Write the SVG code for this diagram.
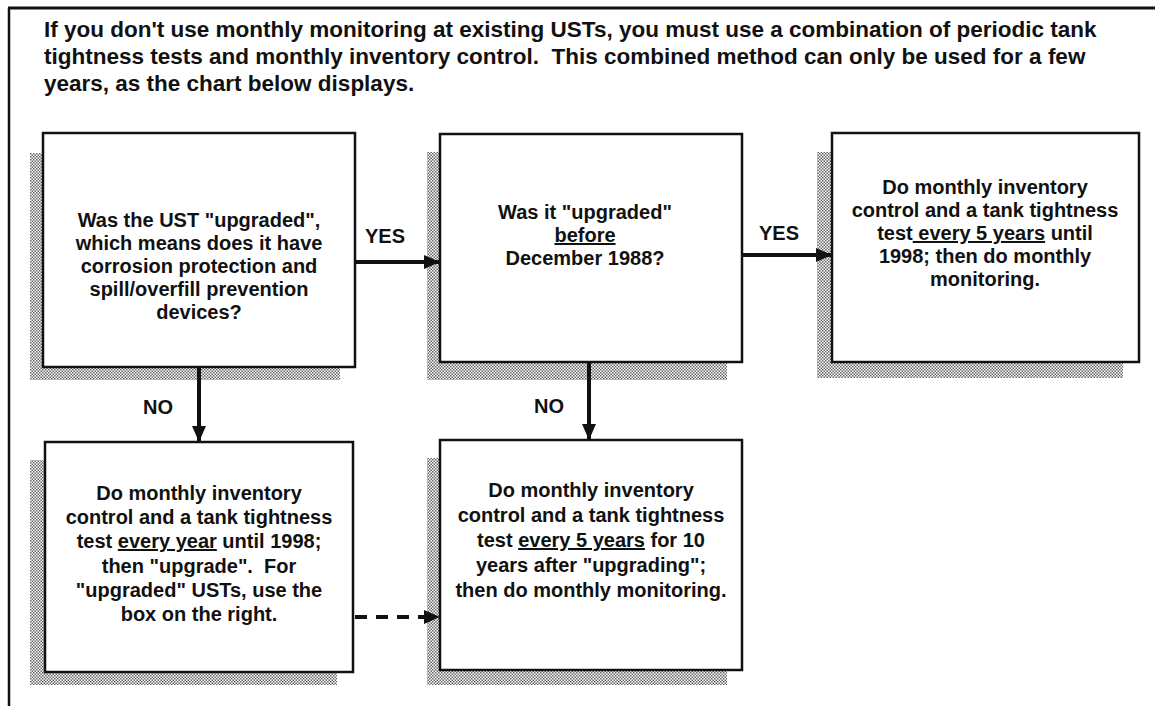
<svg xmlns="http://www.w3.org/2000/svg" width="1155" height="706" viewBox="0 0 1155 706">
<style>
.t{font-family:"Liberation Sans",Arial,sans-serif;font-weight:bold;fill:#111;}
.title{font-size:22.5px;}
.bt{font-size:20px;text-anchor:middle;}
.lbl{font-size:20px;text-anchor:middle;}
.box{fill:#fff;stroke:#111;stroke-width:2.5;}
.shadow{fill:url(#stip);}
.conn{stroke:#111;stroke-width:4;fill:none;}
.u{text-decoration:underline;}
</style>
<defs>
<pattern id="stip" width="3" height="3" patternUnits="userSpaceOnUse">
<rect width="3" height="3" fill="#fff"/>
<rect width="1.5" height="1.5" fill="#666"/>
<rect x="1.5" y="1.5" width="1.5" height="1.5" fill="#666"/>
</pattern>
<marker id="arr" markerUnits="userSpaceOnUse" markerWidth="16" markerHeight="14" refX="16" refY="7" orient="auto">
<path d="M0,0 L16,7 L0,14 Z" fill="#111"/>
</marker>
</defs>
<g id="frame">
<line x1="8" y1="8" x2="1155" y2="8" stroke="#111" stroke-width="3"/>
<line x1="9" y1="8" x2="9" y2="706" stroke="#111" stroke-width="2.5"/>
</g>
<g id="title">
<text class="t title" x="44" y="37">If you don't use monthly monitoring at existing USTs, you must use a combination of periodic tank</text>
<text class="t title" x="44" y="64">tightness tests and monthly inventory control.&#160; This combined method can only be used for a few</text>
<text class="t title" x="44" y="91">years, as the chart below displays.</text>
</g>
<g id="node-q1">
<rect class="shadow" x="30" y="153" width="310" height="227"/>
<rect class="box" x="43" y="133" width="312" height="234" stroke-width="4"/>
<text class="t bt" x="199" y="227">Was the UST "upgraded",</text>
<text class="t bt" x="199" y="250">which means does it have</text>
<text class="t bt" x="199" y="273">corrosion protection and</text>
<text class="t bt" x="199" y="296">spill/overfill prevention</text>
<text class="t bt" x="199" y="319">devices?</text>
</g>
<g id="node-q2">
<rect class="shadow" x="427" y="152" width="300" height="228"/>
<rect class="box" x="440" y="134" width="302" height="228"/>
<text class="t bt" x="585" y="219">Was it "upgraded"</text>
<text class="t bt" x="585" y="242"><tspan class="u">before</tspan></text>
<text class="t bt" x="585" y="265">December 1988?</text>
</g>
<g id="node-a1">
<rect class="shadow" x="817" y="152" width="306" height="226"/>
<rect class="box" x="832" y="133" width="307" height="229"/>
<text class="t bt" x="985" y="194">Do monthly inventory</text>
<text class="t bt" x="985" y="217">control and a tank tightness</text>
<text class="t bt" x="985" y="240">test<tspan class="u"> every 5 years</tspan> until</text>
<text class="t bt" x="985" y="263">1998; then do monthly</text>
<text class="t bt" x="985" y="286">monitoring.</text>
</g>
<g id="node-a2">
<rect class="shadow" x="30" y="460" width="307" height="225"/>
<rect class="box" x="45" y="442" width="308" height="230"/>
<text class="t bt" x="199" y="500">Do monthly inventory</text>
<text class="t bt" x="199" y="524">control and a tank tightness</text>
<text class="t bt" x="199" y="548">test <tspan class="u">every year</tspan> until 1998;</text>
<text class="t bt" x="199" y="573">then "upgrade".&#160; For</text>
<text class="t bt" x="199" y="597">"upgraded" USTs, use the</text>
<text class="t bt" x="199" y="621">box on the right.</text>
</g>
<g id="node-a3">
<rect class="shadow" x="427" y="458" width="300" height="227"/>
<rect class="box" x="440" y="440" width="302" height="230"/>
<text class="t bt" x="591" y="497">Do monthly inventory</text>
<text class="t bt" x="591" y="522">control and a tank tightness</text>
<text class="t bt" x="591" y="547">test <tspan class="u">every 5 years</tspan> for 10</text>
<text class="t bt" x="591" y="572">years after "upgrading";</text>
<text class="t bt" x="591" y="597">then do monthly monitoring.</text>
</g>
<g id="connectors">
<line class="conn" x1="355" y1="262" x2="440" y2="262" marker-end="url(#arr)"/>
<line class="conn" x1="742" y1="255" x2="832" y2="255" marker-end="url(#arr)"/>
<line class="conn" x1="199" y1="367" x2="199" y2="442" marker-end="url(#arr)"/>
<line class="conn" x1="589" y1="362" x2="589" y2="440" marker-end="url(#arr)"/>
<line class="conn" x1="355" y1="617" x2="440" y2="617" stroke-dasharray="12 9" marker-end="url(#arr)"/>
<text class="t lbl" x="385" y="243">YES</text>
<text class="t lbl" x="779" y="240">YES</text>
<text class="t lbl" x="158" y="414">NO</text>
<text class="t lbl" x="549" y="413">NO</text>
</g>
</svg>
